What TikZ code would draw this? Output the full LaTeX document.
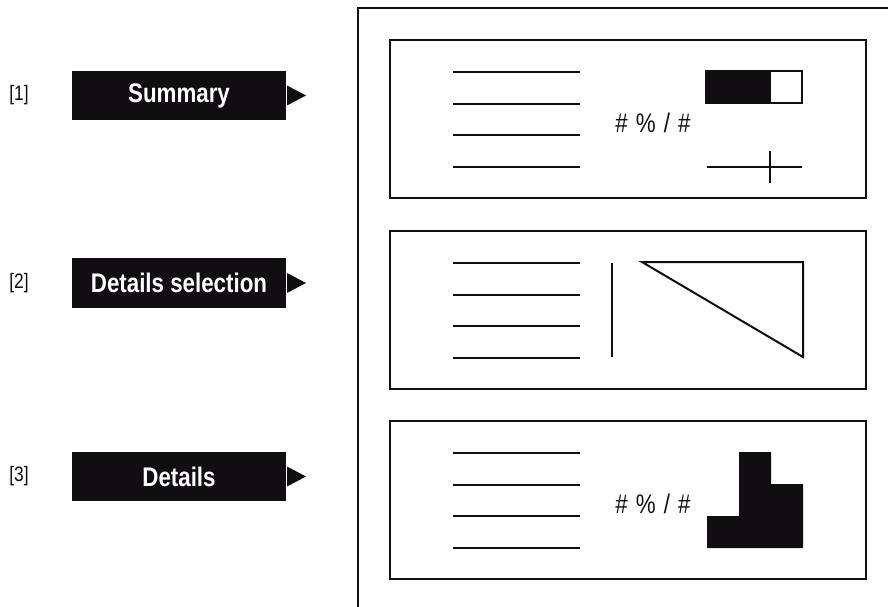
\documentclass[tikz,border=0pt]{standalone}
\usepackage{fontspec}
\setmainfont{Liberation Sans}
\newfontfamily\condfont[FakeStretch=0.83]{Liberation Sans}
\definecolor{ink}{HTML}{110E12}
\begin{document}
\begin{tikzpicture}[x=1bp,y=-1bp, line width=2bp, draw=ink,
  frame/.style={draw=ink, line width=2bp},
  tagbox/.style={fill=ink, text=white, minimum width=214bp, minimum height=49bp,
    inner sep=0pt, font=\condfont\fontsize{27}{29}\selectfont\bfseries},
  tagnum/.style={text=ink, inner sep=0pt, font=\condfont\fontsize{21}{23}\selectfont},
  ratio/.style={text=ink, inner sep=0pt, font=\condfont\fontsize{27}{29}\selectfont},
  pointer/.style={fill=ink, draw=none}]
\useasboundingbox (0,0) rectangle (888,607);

% outer screen frame, open at the bottom and right
\draw[frame] (357.5,607) -- (357.5,8) -- (888,8);

% section tags on the left
\foreach \i/\y/\t in {1/95.5/Summary, 2/283/Details selection, 3/476.5/Details}{
  \node[tagnum] (num\i) at (19,\y) {[\i]};
  \node[tagbox] (tag\i) at (179,\y) {\t};
  \fill[pointer] (tag\i.east) ++(0,-10) -- ++(19,10) -- ++(-19,10) -- cycle;
}

% three panels
\draw[frame] (390,40) rectangle (866,198);
\draw[frame] (390,231) rectangle (866,389);
\draw[frame] (390,421) rectangle (866,579);

% text placeholder lines
\foreach \top in {40,231,421}{
  \foreach \k in {0,1,2,3}{
    \draw (453,\top+32+31.7*\k) -- (580,\top+32+31.7*\k);
  }
}

% panel 1: ratio, toggle and slider
\node[ratio] (ratio1) at (653,123) {\#\hspace{0.3em}\%\hspace{0.3em}/\hspace{0.3em}\#};
\fill[ink] (706,71) rectangle (771,103);
\draw (706,71) rectangle (802,103);
\draw (707,167) -- (802,167);
\draw (770,151) -- (770,183);

% panel 2: divider and triangle
\draw (612,263) -- (612,357);
\draw[line join=miter] (642,262) -- (803,262) -- (803,357) -- cycle;

% panel 3: ratio and stepped block
\node[ratio] (ratio3) at (653,504) {\#\hspace{0.3em}\%\hspace{0.3em}/\hspace{0.3em}\#};
\fill[ink] (707,548) -- (707,516) -- (739,516) -- (739,452) -- (771,452)
  -- (771,484) -- (803,484) -- (803,548) -- cycle;
\end{tikzpicture}
\end{document}
